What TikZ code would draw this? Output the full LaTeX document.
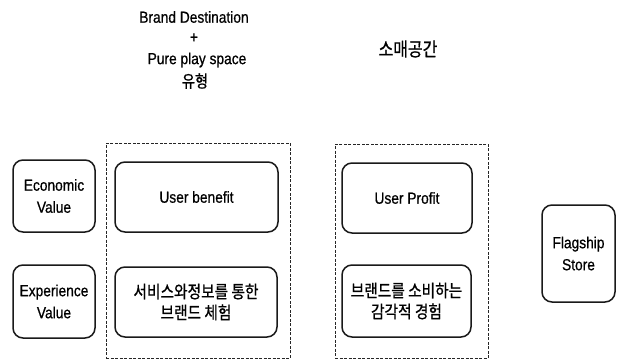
\documentclass[tikz,border=0pt]{standalone}
\usepackage{fontspec}
\setmainfont{Liberation Sans}[FakeStretch=0.86,FakeBold=0.6]
\newfontfamily\kr{Noto Sans CJK KR}[FakeStretch=0.84,FakeBold=0.8]
\begin{document}
\begin{tikzpicture}[x=1pt,y=-1pt,
  box/.style={draw=black!90, line width=1.5pt, rounded corners=10pt, align=center, inner sep=0pt,
    font=\fontsize{16}{22}\selectfont},
  krbox/.style={box, font=\kr\fontsize{17.5}{21}\selectfont},
  group/.style={draw=black!85, line width=1pt, dash pattern=on 3pt off 1.5pt, inner sep=0pt},
  lbl/.style={inner sep=0pt, align=center, font=\fontsize{16}{21}\selectfont}]
\useasboundingbox (0,0) rectangle (622,360);
% titles
\node[lbl] (t1) at (194,17) {Brand Destination};
\node[lbl] (t2) at (194,38) {+};
\node[lbl] (t3) at (197,60) {Pure play space};
\node[lbl, font=\kr\fontsize{17}{21}\selectfont] (t4) at (195,81) {유형};
\node[lbl, font=\kr\fontsize{19}{21}\selectfont] (t5) at (408,49) {소매공간};
% dashed groups
\node[group, minimum width=184pt, minimum height=215pt] (g1) at (198,250.5) {};
\node[group, minimum width=153pt, minimum height=214pt] (g2) at (411.5,251) {};
% boxes
\node[box, minimum width=82pt, minimum height=72pt] (eco) at (54,196) {Economic\\Value};
\node[box, minimum width=82pt, minimum height=73pt] (exp) at (54,301.5) {Experience\\Value};
\node[box, minimum width=163pt, minimum height=70pt] (ub) at (196.5,197) {User benefit};
\node[krbox, minimum width=162pt, minimum height=70pt] (sv) at (196,302) {서비스와정보를 통한\\브랜드 체험};
\node[box, minimum width=130pt, minimum height=70pt] (up) at (407,198) {User Profit};
\node[krbox, minimum width=129pt, minimum height=72pt] (br) at (406.5,301) {브랜드를 소비하는\\감각적 경험};
\node[box, minimum width=73pt, minimum height=97pt] (fs) at (578.5,253.5) {Flagship\\Store};
\end{tikzpicture}
\end{document}
